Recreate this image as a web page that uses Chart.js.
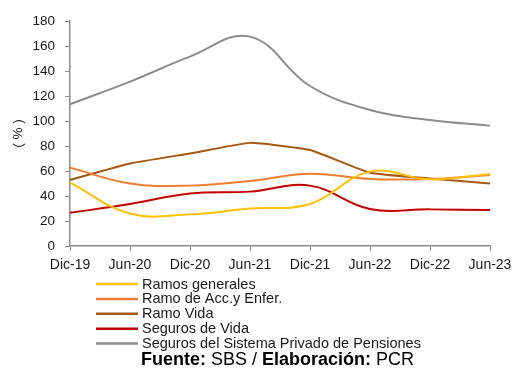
<!DOCTYPE html>
<html>
<head>
<meta charset="utf-8">
<script src="https://cdn.jsdelivr.net/npm/chart.js@4/dist/chart.umd.min.js"></script>
<style>
  html, body { margin: 0; padding: 0; background: #fff; }
  #wrap { width: 518px; height: 370px; position: relative; }
</style>
</head>
<body>
<div id="wrap"><canvas id="siniestralidad" width="518" height="370"></canvas></div>
<script>
const periods = ["Dic-19", "Jun-20", "Dic-20", "Jun-21", "Dic-21", "Jun-22", "Dic-22", "Jun-23"];

const ramosGenerales = [50.7, 26, 25.3, 30, 33.6, 59.5, 53.3, 57.6];
const ramoAccEnfer = [62.7, 50, 48.3, 52, 57.8, 53.6, 53.6, 56.8];
const ramoVida = [52.8, 66, 74, 82.5, 76.8, 58.6, 54, 50];
const segurosVida = [26.6, 33.6, 42, 43.5, 48.3, 29.6, 29.3, 28.8];
const segurosSPP = [113.4, 131.5, 151.5, 167.5, 128, 108.8, 100.8, 96.3];

const seriesNames = [
  "Ramos generales",
  "Ramo de Acc.y Enfer.",
  "Ramo Vida",
  "Seguros de Vida",
  "Seguros del Sistema Privado de Pensiones",
];
const seriesColors = ["#FFC000", "#ED7D31", "#A5570F", "#C00000", "#8C8C8C"];
const seriesData = [ramosGenerales, ramoAccEnfer, ramoVida, segurosVida, segurosSPP];

const FONT = "'Liberation Sans', Arial, sans-serif";
const TEXT = "#1a1a1a";
const AXIS = "#8c8c8c";

// legend + source line drawn under the plot
const bottomNotes = {
  id: "bottomNotes",
  afterDraw(chart) {
    const ctx = chart.ctx;
    ctx.save();
    ctx.textBaseline = "middle";
    ctx.font = "14.5px " + FONT;
    chart.data.datasets.forEach((ds, i) => {
      const y = 284 + i * 14.9;
      ctx.strokeStyle = ds.borderColor;
      ctx.lineWidth = 2.5;
      ctx.beginPath();
      ctx.moveTo(96, y);
      ctx.lineTo(138, y);
      ctx.stroke();
      ctx.fillStyle = TEXT;
      ctx.textAlign = "left";
      ctx.fillText(ds.label, 142, y + 0.5);
    });

    const parts = [
      ["Fuente:", true],
      [" SBS / ", false],
      ["Elaboración:", true],
      [" PCR", false],
    ];
    let x = 141;
    parts.forEach(([t, bold]) => {
      ctx.font = (bold ? "bold " : "") + "18px " + FONT;
      ctx.fillStyle = "#000";
      ctx.fillText(t, x, 360);
      x += ctx.measureText(t).width;
    });
    ctx.restore();
  },
};

const datasets = seriesData.map((d, i) => ({
  label: seriesNames[i],
  data: d,
  borderColor: seriesColors[i],
  backgroundColor: seriesColors[i],
  borderWidth: 2,
  pointRadius: 0,
  tension: i === 2 ? 0.12 : 0.4,
  fill: false,
}));

new Chart(document.getElementById("siniestralidad"), {
  type: "line",
  data: { labels: periods, datasets: datasets },
  options: {
    responsive: false,
    animation: false,
    layout: { padding: { top: 21, right: 28, left: 0, bottom: 0 } },
    scales: {
      x: {
        offset: false,
        afterFit: s => { s.height = 124; },
        grid: {
          display: true,
          drawOnChartArea: false,
          drawTicks: true,
          tickLength: 5,
          color: AXIS,
        },
        border: { display: true, color: AXIS, width: 1.5 },
        ticks: {
          color: TEXT,
          font: { family: FONT, size: 14 },
          padding: 6,
          maxRotation: 0,
          autoSkip: false,
        },
      },
      y: {
        min: 0,
        max: 180,
        afterFit: s => { s.width = 70; },
        grid: {
          display: true,
          drawOnChartArea: false,
          drawTicks: true,
          tickLength: 5,
          color: AXIS,
        },
        border: { display: true, color: AXIS, width: 1.5 },
        ticks: {
          stepSize: 20,
          color: TEXT,
          font: { family: FONT, size: 13.5 },
          padding: 10,
        },
        title: {
          display: true,
          text: "( % )",
          color: TEXT,
          font: { family: FONT, size: 13.5 },
          padding: { top: 10, bottom: 0 },
        },
      },
    },
    plugins: {
      legend: { display: false },
      tooltip: { enabled: false },
    },
  },
  plugins: [bottomNotes],
});
</script>
</body>
</html>
